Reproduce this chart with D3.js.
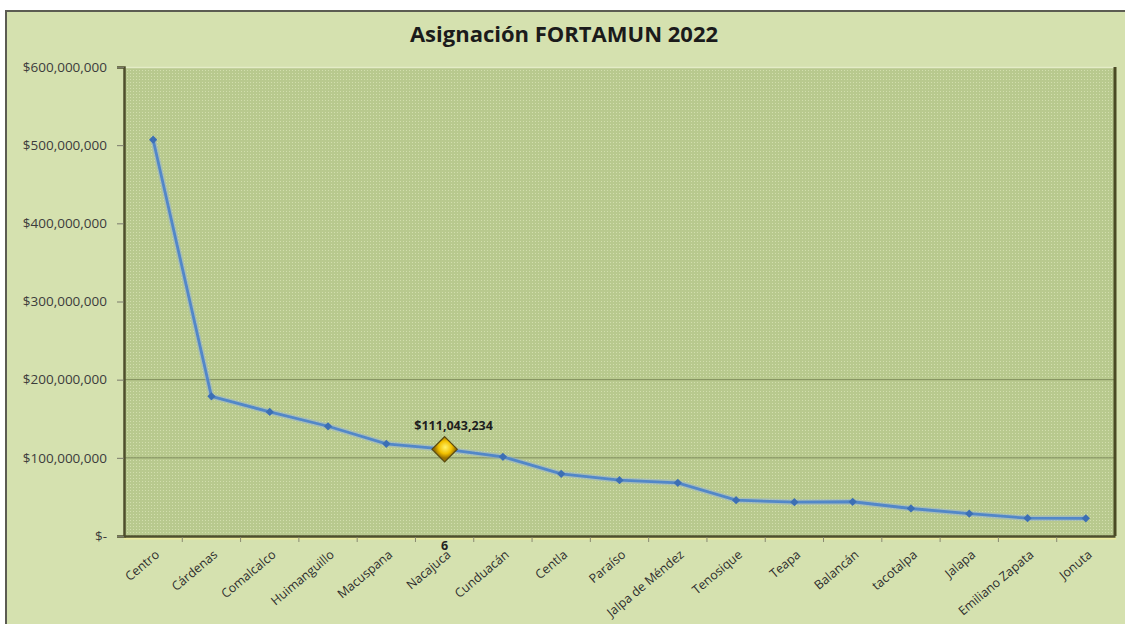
<!DOCTYPE html>
<html>
<head>
<meta charset="utf-8">
<script src="https://cdn.jsdelivr.net/npm/d3@7"></script>
<style>
  body { margin: 0; background: #ffffff; }
  svg { display: block; font-family: "Open Sans", sans-serif; }
</style>
</head>
<body>
<div id="chart"></div>
<script>
// datos
const municipios = ["Centro", "Cárdenas", "Comalcalco", "Huimanguillo", "Macuspana", "Nacajuca",
  "Cunduacán", "Centla", "Paraíso", "Jalpa de Méndez", "Tenosique", "Teapa", "Balancán",
  "tacotalpa", "Jalapa", "Emiliano Zapata", "Jonuta"];
const asignacion = [507000000, 178700000, 158700000, 140400000, 117900000, 111043234,
  101300000, 79600000, 71400000, 68000000, 45800000, 43300000, 43800000,
  35200000, 28500000, 22800000, 22600000];
const yTicks = [0, 100000000, 200000000, 300000000, 400000000, 500000000, 600000000];
const gridVisibles = [100000000, 200000000];
const destacado = "Nacajuca";
const etiquetaDestacado = "6";

let width = 1125, height = 624;
let margin = { top: 67, right: 10, bottom: 88, left: 124 };
let plotW = 1115 - margin.left, plotH = 536 - margin.top;

let svg = d3.select("#chart")
  .append("svg")
  .attr("width", width)
  .attr("height", height);

let defs = svg.append("defs");
let pat = defs.append("pattern")
  .attr("id", "puntos")
  .attr("width", 3).attr("height", 3)
  .attr("patternUnits", "userSpaceOnUse");
pat.append("rect").attr("width", 3).attr("height", 3).attr("fill", "#b8c98e");
pat.append("rect").attr("x", 0).attr("y", 0).attr("width", 1).attr("height", 1).attr("fill", "#d2dead");

let oro = defs.append("radialGradient").attr("id", "oro").attr("cx", "45%").attr("cy", "40%").attr("r", "60%");
oro.append("stop").attr("offset", "0%").attr("stop-color", "#fff36a");
oro.append("stop").attr("offset", "60%").attr("stop-color", "#f2c100");
oro.append("stop").attr("offset", "100%").attr("stop-color", "#9a7200");

// fondo y marco
svg.append("rect")
  .attr("x", 6).attr("y", 11)
  .attr("width", width).attr("height", height)
  .attr("fill", "#d5e1af")
  .attr("stroke", "#5c5c52")
  .attr("stroke-width", 2);

svg.append("text")
  .attr("x", 564).attr("y", 42)
  .attr("text-anchor", "middle")
  .attr("font-size", "22px")
  .attr("font-weight", "bold")
  .attr("fill", "#1b1b1b")
  .text("Asignación FORTAMUN 2022");

let g = svg.append("g")
  .attr("transform", "translate(" + margin.left + "," + margin.top + ")");

let x = d3.scaleBand().domain(municipios).range([0, plotW]);
let y = d3.scaleLinear().domain([0, 600000000]).range([plotH, 0]);

g.append("rect")
  .attr("width", plotW).attr("height", plotH)
  .attr("fill", "url(#puntos)");

// lineas de cuadricula
g.append("g")
  .selectAll("line")
  .data(gridVisibles)
  .enter()
  .append("line")
  .attr("x1", 0).attr("x2", plotW)
  .attr("y1", d => y(d)).attr("y2", d => y(d))
  .attr("stroke", "#7d8a5a")
  .attr("stroke-width", 1);

// bordes con relieve
g.append("line").attr("x1", 0).attr("x2", plotW).attr("y1", 0.5).attr("y2", 0.5)
  .attr("stroke", "#e4ecc6").attr("stroke-width", 1.5);
g.append("line").attr("x1", plotW).attr("x2", plotW).attr("y1", 0).attr("y2", plotH)
  .attr("stroke", "#4a4a24").attr("stroke-width", 3);
g.append("line").attr("x1", 0).attr("x2", plotW + 1).attr("y1", plotH + 2.5).attr("y2", plotH + 2.5)
  .attr("stroke", "#ecea9e").attr("stroke-width", 2);

// eje y
let yAxis = g.append("g")
  .call(d3.axisLeft(y).tickValues(yTicks).tickSize(7).tickPadding(10)
    .tickFormat(d => d === 0 ? "$-" : "$" + d3.format(",")(d)));
yAxis.select(".domain").attr("stroke", "#4e4e2c").attr("stroke-width", 2.5);
yAxis.selectAll(".tick line").attr("stroke", "#7a7a6a");
yAxis.selectAll(".tick text")
  .attr("font-family", "Open Sans, sans-serif")
  .attr("font-size", "13.5px")
  .attr("fill", "#3c3c3c");

// eje x
let xAxis = g.append("g")
  .attr("transform", "translate(0," + plotH + ")")
  .call(d3.axisBottom(x).tickSize(0).tickFormat(""));
xAxis.select(".domain").attr("stroke", "#4e4e2c").attr("stroke-width", 2.5);

g.append("g")
  .selectAll("line")
  .data(municipios.slice(1))
  .enter()
  .append("line")
  .attr("x1", d => x(d)).attr("x2", d => x(d))
  .attr("y1", plotH + 1).attr("y2", plotH + 6)
  .attr("stroke", "#8a8a70");

g.append("g")
  .selectAll("text")
  .data(municipios)
  .enter()
  .append("text")
  .attr("transform", d => "translate(" + (x(d) + x.bandwidth() / 2 + 7) + "," + (plotH + 20) + ") rotate(-40)")
  .attr("text-anchor", "end")
  .attr("font-size", "12.5px")
  .attr("fill", "#2e2e2e")
  .text(d => d);

g.append("text")
  .attr("x", x(destacado) + x.bandwidth() / 2)
  .attr("y", plotH + 14)
  .attr("text-anchor", "middle")
  .attr("font-size", "12.5px")
  .attr("font-weight", "bold")
  .attr("fill", "#222")
  .text(etiquetaDestacado);

// serie
let datos = municipios.map((m, i) => ({ m: m, v: asignacion[i] }));
let linea = d3.line()
  .x(d => x(d.m) + x.bandwidth() / 2)
  .y(d => y(d.v));

g.append("path")
  .datum(datos)
  .attr("d", linea)
  .attr("fill", "none")
  .attr("stroke", "#8fb0dc")
  .attr("stroke-width", 5.5)
  .attr("stroke-opacity", 0.5);
g.append("path")
  .datum(datos)
  .attr("d", linea)
  .attr("fill", "none")
  .attr("stroke", "#5287c8")
  .attr("stroke-width", 2.8);

g.selectAll(".marca")
  .data(datos.filter(d => d.m !== destacado))
  .enter()
  .append("path")
  .attr("class", "marca")
  .attr("transform", d => "translate(" + (x(d.m) + x.bandwidth() / 2) + "," + y(d.v) + ") rotate(45)")
  .attr("d", d3.symbol(d3.symbolSquare, 34)())
  .attr("fill", "#3c6fb4");

let dest = datos.find(d => d.m === destacado);
g.append("path")
  .attr("transform", "translate(" + (x(dest.m) + x.bandwidth() / 2) + "," + y(dest.v) + ") rotate(45)")
  .attr("d", d3.symbol(d3.symbolSquare, 320)())
  .attr("fill", "url(#oro)")
  .attr("stroke", "#5a4a10")
  .attr("stroke-width", 1.2);

g.append("text")
  .attr("x", x(dest.m) + x.bandwidth() / 2 + 9)
  .attr("y", y(dest.v) - 19)
  .attr("text-anchor", "middle")
  .attr("font-size", "12.5px")
  .attr("font-weight", "bold")
  .attr("fill", "#1e1e1e")
  .text("$" + d3.format(",")(dest.v));
</script>
</body>
</html>
